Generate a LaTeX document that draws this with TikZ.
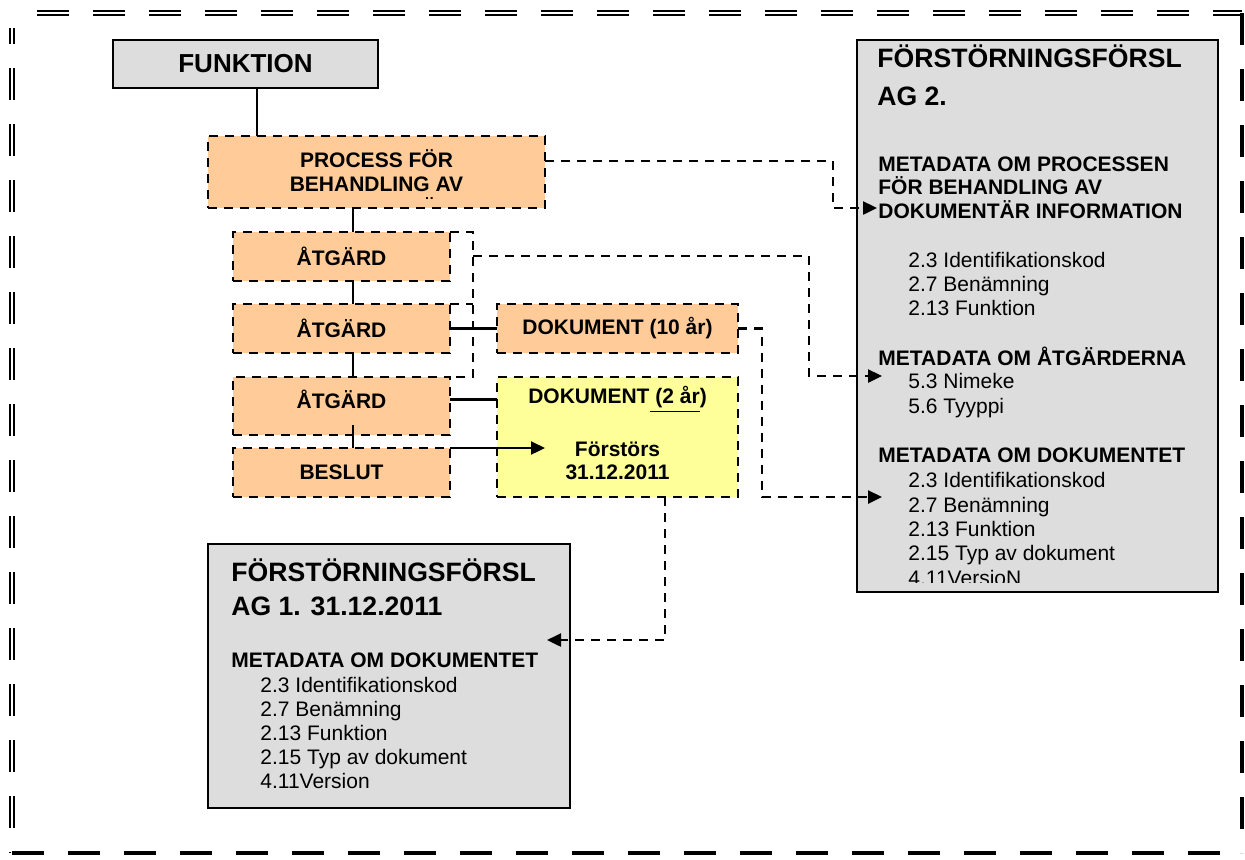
\documentclass[tikz,border=0pt]{standalone}
\usepackage{fontspec}
\setmainfont{Liberation Sans}
\usetikzlibrary{arrows.meta,calc}
\definecolor{peach}{HTML}{FFCC99}
\definecolor{pale}{HTML}{FFFF99}
\definecolor{boxgray}{HTML}{DDDDDD}
\tikzset{
  graybox/.style={draw, line width=1.1pt, fill=boxgray, inner sep=0pt, outer sep=0pt},
  stepbox/.style={draw, line width=1.2pt, dash pattern=on 4.5pt off 3.5pt, fill=peach,
    inner sep=0pt, outer sep=0pt, font=\bfseries\fontsize{10.5}{12}\selectfont},
  conline/.style={line width=1.1pt},
  dashline/.style={line width=1.2pt, dash pattern=on 4.5pt off 3.5pt},
  arrowend/.style={-{Triangle[length=7pt,width=6.5pt]}},
  bigtext/.style={anchor=base west, inner sep=0pt, font=\bfseries\fontsize{13.3}{15}\selectfont},
  headtext/.style={anchor=base west, inner sep=0pt, font=\bfseries\fontsize{10.5}{12}\selectfont},
  itemtext/.style={anchor=base west, inner sep=0pt, font=\fontsize{10.5}{12}\selectfont},
}
\begin{document}
\begin{tikzpicture}[x=0.5pt,y=-0.5pt]
\useasboundingbox (0,0) rectangle (1245,859);

% frame
\draw[line width=0.7pt, double distance=1.2pt, dash pattern=on 16pt off 12pt] (37,13) -- (1242,13);
\draw[line width=0.7pt, double distance=1.2pt, dash pattern=on 16pt off 12pt, dash phase=8pt] (12,28) -- (12,853);
\draw[line width=1.6pt, dash pattern=on 16pt off 12pt] (1242,13) -- (1242,853);
\draw[line width=1.6pt, dash pattern=on 16pt off 12pt] (12,853) -- (1242,853);

% left column
\node[graybox, minimum width=132.5pt, minimum height=24pt, font=\bfseries\fontsize{13}{15}\selectfont] (func) at (245.5,64) {FUNKTION};
\node[stepbox, minimum width=168.5pt, minimum height=36pt] (proc) at (376.5,172) {};
\begin{scope}
  \clip (proc.north west) rectangle (545,198);
  \foreach \yy/\txt in {167/PROCESS FÖR, 191/BEHANDLING AV, 215/DOKUMENTÄR}
    \node[headtext, anchor=base] (proc-\yy) at (376.5,\yy) {\txt};
\end{scope}

% group behind the steps
\coordinate (grp) at (473,0);
\node[stepbox, minimum width=108.5pt, minimum height=24.5pt] (a1) at (341.5,256.5) {ÅTGÄRD};
\node[stepbox, minimum width=108.5pt, minimum height=24.5pt] (a2) at (341.5,328.5) {ÅTGÄRD};
\node[stepbox, minimum width=108.5pt, minimum height=29pt] (a3) at (341.5,406) {};
\node[headtext, anchor=center] (a3-txt) at (341.5,399.5) {ÅTGÄRD};
\node[stepbox, minimum width=108.5pt, minimum height=24.5pt] (beslut) at (341.5,472.5) {BESLUT};
\draw[dashline] (a1.north east) -- (a1.north east -| grp) -- (a3.north east -| grp) -- (a3.north east);
\draw[dashline] (a2.north east) -- (a2.north east -| grp);

\node[stepbox, minimum width=120.5pt, minimum height=24.5pt] (dok10) at (617.5,328.5) {DOKUMENT (10 år)};
\node[stepbox, fill=pale, minimum width=120.5pt, minimum height=60pt] (dok2) at (617.5,437) {};
\node[headtext, anchor=center] (dok2-a) at (617.5,399.5) {DOKUMENT\underline{ (2 år})};
\node[headtext, anchor=center] (dok2-b) at (617.5,449) {Förstörs};
\node[headtext, anchor=center] (dok2-c) at (617.5,472) {31.12.2011};

% right box
\node[graybox, minimum width=180.5pt, minimum height=276pt] (rbox) at (1037.5,316) {};
\foreach \yy/\txt in {67/FÖRSTÖRNINGSFÖRSL, 105/AG 2.}
  \node[bigtext] (rt-\yy) at (877,\yy) {\txt};
\foreach \yy/\txt in {171/METADATA OM PROCESSEN, 194/FÖR BEHANDLING AV, 218/DOKUMENTÄR INFORMATION,
                      365/METADATA OM ÅTGÄRDERNA, 462/METADATA OM DOKUMENTET}
  \node[headtext] (rh-\yy) at (878,\yy) {\txt};
\foreach \yy/\txt in {267/2.3 Identifikationskod, 291/2.7 Benämning, 315/2.13 Funktion,
                      388/5.3 Nimeke, 413/5.6 Tyyppi,
                      487/2.3 Identifikationskod, 512/2.7 Benämning, 536/2.13 Funktion, 560/2.15 Typ av dokument}
  \node[itemtext] (ri-\yy) at (908,\yy) {\txt};
\begin{scope}
  \clip (rbox.north west) rectangle (1218,582);
  \node[itemtext] (ri-last) at (908,585) {4.11VersioN};
\end{scope}

% lower box
\node[graybox, minimum width=181pt, minimum height=132pt] (lbox) at (389,676) {};
\foreach \yy/\txt in {581/FÖRSTÖRNINGSFÖRSL, 615/AG 1. 31.12.2011}
  \node[bigtext] (lt-\yy) at (231,\yy) {\txt};
\node[headtext] (lh) at (231,667) {METADATA OM DOKUMENTET};
\foreach \yy/\txt in {692/2.3 Identifikationskod, 716/2.7 Benämning, 740/2.13 Funktion,
                      764/2.15 Typ av dokument, 788/4.11Version}
  \node[itemtext] (li-\yy) at (260,\yy) {\txt};

% solid links
\coordinate (spine) at (353,0);
\draw[conline] ($(func.south)+(11.5,0)$) coordinate (f1) -- (f1 |- proc.north);
\draw[conline] (proc.south -| spine) -- (a1.north -| spine);
\draw[conline] (a1.south -| spine) -- (a2.north -| spine);
\draw[conline] (a2.south -| spine) -- (a3.north -| spine);
\draw[conline] ($(a3.south -| spine)+(0,-10)$) -- (beslut.north -| spine);
\draw[conline] (a2.east) -- (dok10.west);
\draw[conline] ($(a3.east)+(0,-6.5)$) coordinate (a3r) -- (a3r -| dok2.west);
\coordinate (fstip) at (545,448);
\draw[conline, arrowend] (beslut.north east) -- (fstip);

% dashed links
\coordinate (ag2p) at (877,208);
\coordinate (ag2a) at (882,376);
\coordinate (ag2d) at (882,497);
\coordinate (ag1d) at (547,640);
\coordinate (drop) at (665,0);
\draw[dashline, arrowend] ($(proc.east)+(0,-11)$) -| (833,208) -- (ag2p);
\draw[dashline, arrowend] (473,256) -- (809,256) -- (809,376) -- (ag2a);
\draw[dashline, arrowend] (dok10.east) -| (762,497) -- (ag2d);
\draw[dashline, arrowend] (dok2.south -| drop) -- (drop |- ag1d) -- (ag1d);
\end{tikzpicture}
\end{document}
